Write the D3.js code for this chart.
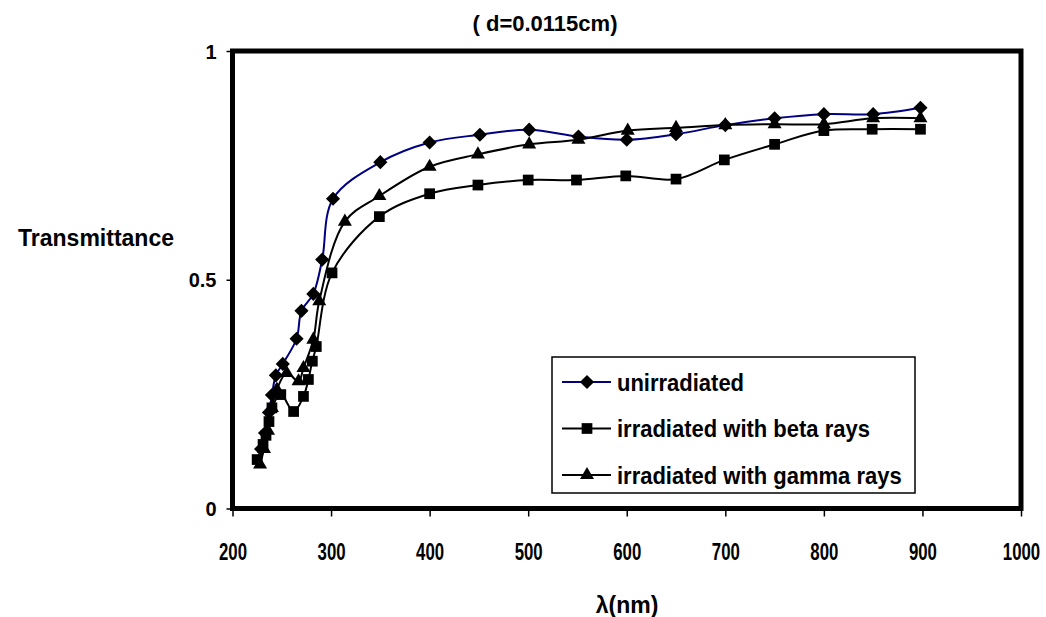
<!DOCTYPE html>
<html lang="en">
  <head>
    <meta charset="UTF-8" />
    <title>Transmittance</title>
    <script src="https://d3js.org/d3.v7.min.js"></script>
    <style>
      body {
        margin: 0;
        background: #fff;
        font-family: Arial, "Liberation Sans", sans-serif;
      }
      svg {
        display: block;
      }
      text {
        font-weight: bold;
        fill: #000;
      }
    </style>
  </head>
  <body>
    <svg id="chart" width="1046" height="617"></svg>

    <script>
      // values
      const unirrLambda = [229, 233, 237, 240, 244, 251, 265, 270, 282, 291, 302, 350, 400, 451, 501, 551, 600, 650, 700, 750, 800, 850, 898];
      const unirrT = [0.13, 0.165, 0.21, 0.248, 0.291, 0.316, 0.371, 0.432, 0.469, 0.544, 0.677, 0.757, 0.8, 0.817, 0.828, 0.813, 0.806, 0.818, 0.838, 0.853, 0.862, 0.862, 0.876];

      const betaLambda = [225, 231, 234, 237, 240, 249, 262, 272, 277, 281, 285, 301, 349, 400, 449, 500, 549, 599, 650, 699, 750, 800, 849, 898];
      const betaT = [0.107, 0.14, 0.16, 0.19, 0.22, 0.249, 0.212, 0.245, 0.282, 0.322, 0.354, 0.515, 0.638, 0.688, 0.707, 0.718, 0.718, 0.727, 0.72, 0.762, 0.796, 0.826, 0.829, 0.829];

      const gammaLambda = [228, 232, 236, 240, 245, 255, 267, 272, 282, 288, 314, 349, 400, 449, 501, 551, 601, 650, 700, 750, 800, 850, 898];
      const gammaT = [0.096, 0.13, 0.17, 0.22, 0.26, 0.296, 0.278, 0.307, 0.369, 0.453, 0.627, 0.683, 0.747, 0.774, 0.796, 0.806, 0.826, 0.832, 0.838, 0.84, 0.84, 0.853, 0.853];

      const xTicks = [200, 300, 400, 500, 600, 700, 800, 900, 1000];
      const yTicks = [0, 0.5, 1];

      const seriesNames = ["unirradiated", "irradiated with beta rays", "irradiated with gamma rays"];

      const series = [
        { name: seriesNames[0], xs: unirrLambda, ys: unirrT, color: "#000080", symbol: "diamond" },
        { name: seriesNames[1], xs: betaLambda, ys: betaT, color: "#000", symbol: "square" },
        { name: seriesNames[2], xs: gammaLambda, ys: gammaT, color: "#000", symbol: "triangle" },
      ];

      const plotL = 232.5, plotR = 1021, plotT = 51, plotB = 508.5;

      const svg = d3.select("#chart");

      const x = d3.scaleLinear().domain([200, 1000]).range([plotL, plotR]);
      const y = d3.scaleLinear().domain([0, 1]).range([plotB, plotT]);

      // diamond = square turned 45 degrees, as the spreadsheet draws it
      const symbolPath = {
        diamond: d3.symbol().type(d3.symbolSquare).size(100),
        square: d3.symbol().type(d3.symbolSquare).size(115),
        triangle: d3.symbol().type(d3.symbolTriangle).size(85),
      };
      const symbolRot = { diamond: 45, square: 0, triangle: 0 };

      // plot frame
      svg
        .append("rect")
        .attr("x", plotL)
        .attr("y", plotT)
        .attr("width", plotR - plotL)
        .attr("height", plotB - plotT)
        .attr("fill", "none")
        .attr("stroke", "#000")
        .attr("stroke-width", 5);

      // x axis
      const xAxis = svg
        .append("g")
        .attr("transform", `translate(0, ${plotB})`)
        .call(d3.axisBottom(x).tickValues(xTicks).tickSize(8).tickFormat(d3.format("d")));
      xAxis.select(".domain").remove();
      xAxis.selectAll(".tick line").attr("stroke", "#000").attr("stroke-width", 1.5);
      xAxis
        .selectAll(".tick text")
        .attr("y", 0)
        .attr("dy", 0)
        .attr("transform", "translate(0, 51) scale(0.8, 1.15)")
        .style("font-size", "21px")
        .style("font-family", "Arial, 'Liberation Sans', sans-serif");

      // y axis
      const yAxis = svg
        .append("g")
        .attr("transform", `translate(${plotL}, 0)`)
        .call(d3.axisLeft(y).tickValues(yTicks).tickSize(6).tickFormat((d) => (d === 0.5 ? "0.5" : d)));
      yAxis.select(".domain").remove();
      yAxis.selectAll(".tick line").attr("stroke", "#000").attr("stroke-width", 1.5);
      yAxis
        .selectAll(".tick text")
        .attr("x", -16)
        .attr("dy", "0.36em")
        .style("font-size", "20px")
        .style("font-family", "Arial, 'Liberation Sans', sans-serif");

      // lines + markers
      const line = d3
        .line()
        .x((d) => x(d[0]))
        .y((d) => y(d[1]))
        .curve(d3.curveCatmullRom.alpha(0.5));

      series.forEach((s) => {
        const pts = s.xs.map((v, i) => [v, s.ys[i]]);
        svg
          .append("path")
          .datum(pts)
          .attr("d", line)
          .attr("fill", "none")
          .attr("stroke", s.color)
          .attr("stroke-width", 2);
      });

      series.forEach((s) => {
        const pts = s.xs.map((v, i) => [v, s.ys[i]]);
        svg
          .append("g")
          .selectAll("path")
          .data(pts)
          .enter()
          .append("path")
          .attr("d", symbolPath[s.symbol])
          .attr("transform", (d) => `translate(${x(d[0])}, ${y(d[1])}) rotate(${symbolRot[s.symbol]})`)
          .attr("fill", "#000");
      });

      // legend
      const lg = svg.append("g").attr("transform", "translate(552, 357)");
      lg.append("rect")
        .attr("width", 363)
        .attr("height", 136)
        .attr("fill", "#fff")
        .attr("stroke", "#000")
        .attr("stroke-width", 1.5);

      series.forEach((s, i) => {
        const row = lg.append("g").attr("transform", `translate(0, ${25 + i * 46.5})`);
        row.append("line")
          .attr("x1", 10)
          .attr("x2", 59)
          .attr("stroke", s.color)
          .attr("stroke-width", 2);
        row.append("path")
          .attr("d", symbolPath[s.symbol])
          .attr("transform", `translate(35, 0) rotate(${symbolRot[s.symbol]})`)
          .attr("fill", "#000");
        row.append("text")
          .attr("transform", "translate(65, 0) scale(1, 1.1)")
          .attr("dy", "0.36em")
          .style("font-size", "22px")
          .text(s.name);
      });

      // titles
      svg.append("text")
        .attr("x", 545)
        .attr("y", 31)
        .attr("text-anchor", "middle")
        .style("font-size", "22px")
        .text("( d=0.0115cm)");

      svg.append("text")
        .attr("x", 174)
        .attr("y", 246)
        .attr("text-anchor", "end")
        .style("font-size", "23px")
        .text("Transmittance");

      svg.append("text")
        .attr("x", 627)
        .attr("y", 613)
        .attr("text-anchor", "middle")
        .style("font-size", "23px")
        .text("λ(nm)");
    </script>
  </body>
</html>
